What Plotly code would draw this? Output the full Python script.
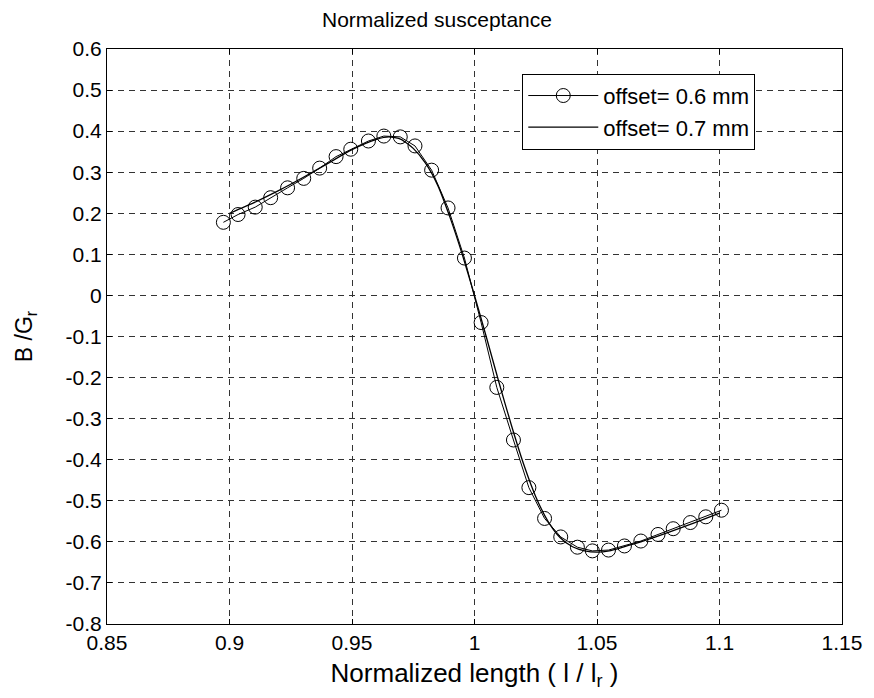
import plotly.graph_objects as go

# offset = 0.6 mm (markers)
x_06 = [0.8975, 0.9035, 0.9105, 0.9168, 0.9237, 0.9303, 0.9368, 0.9435, 0.9495, 0.9567,
        0.9630, 0.9697, 0.9757, 0.9825, 0.9892, 0.9959, 1.0027, 1.0091, 1.0159, 1.0222,
        1.0286, 1.0352, 1.0420, 1.0481, 1.0547, 1.0612, 1.0679, 1.0749, 1.0811, 1.0881,
        1.0944, 1.1008]
y_06 = [0.178, 0.197, 0.215, 0.238, 0.262, 0.285, 0.310, 0.338, 0.356, 0.376,
        0.388, 0.386, 0.364, 0.305, 0.213, 0.091, -0.066, -0.224, -0.352, -0.468,
        -0.543, -0.588, -0.613, -0.622, -0.620, -0.610, -0.598, -0.582, -0.568, -0.553,
        -0.539, -0.523]

# offset = 0.7 mm (line)
x_07 = [0.900, 0.910, 0.920, 0.930, 0.940, 0.950, 0.960, 0.965, 0.970, 0.975,
        0.980, 0.985, 0.990, 0.995, 1.000, 1.005, 1.010, 1.015, 1.020, 1.025,
        1.030, 1.035, 1.040, 1.045, 1.050, 1.055, 1.060, 1.070, 1.080, 1.090, 1.100]
y_07 = [0.200, 0.226, 0.255, 0.287, 0.321, 0.355, 0.380, 0.386, 0.380, 0.358,
        0.322, 0.268, 0.190, 0.100, 0.000, -0.105, -0.212, -0.315, -0.410, -0.490,
        -0.550, -0.590, -0.612, -0.622, -0.625, -0.622, -0.614, -0.596, -0.575, -0.553, -0.530]

x_ticks = [0.85, 0.9, 0.95, 1.0, 1.05, 1.1, 1.15]
x_tick_labels = ["0.85", "0.9", "0.95", "1", "1.05", "1.1", "1.15"]
y_ticks = [0.6, 0.5, 0.4, 0.3, 0.2, 0.1, 0.0, -0.1, -0.2, -0.3, -0.4, -0.5, -0.6, -0.7, -0.8]
y_tick_labels = ["0.6", "0.5", "0.4", "0.3", "0.2", "0.1", "0", "-0.1", "-0.2", "-0.3",
                 "-0.4", "-0.5", "-0.6", "-0.7", "-0.8"]

FONT = "Arial, 'Liberation Sans', sans-serif"

fig = go.Figure()
fig.add_trace(go.Scatter(
    x=x_06, y=y_06, mode="lines+markers", name="offset= 0.6 mm",
    line=dict(color="black", width=1),
    marker=dict(symbol="circle-open", size=14, color="black", line=dict(width=1, color="black")),
))
fig.add_trace(go.Scatter(
    x=x_07, y=y_07, mode="lines", name="offset= 0.7 mm",
    line=dict(color="black", width=1.3, shape="spline", smoothing=0.6),
))

axis_common = dict(
    showline=True, linecolor="black", linewidth=1, mirror="ticks",
    ticks="inside", ticklen=5, tickcolor="black",
    showgrid=True, gridcolor="#333333", gridwidth=1, griddash="6px,5px",
    zeroline=False,
    tickfont=dict(family=FONT, size=21, color="black"),
)

fig.update_xaxes(range=[0.85, 1.15], tickvals=x_ticks, ticktext=x_tick_labels,
                 title=dict(text="Normalized length ( l / l<sub>r</sub> )",
                            font=dict(family=FONT, size=26, color="black"), standoff=10),
                 **axis_common)
fig.update_yaxes(range=[-0.8, 0.6], tickvals=y_ticks, ticktext=y_tick_labels,
                 title=dict(text="B /G<sub>r</sub>",
                            font=dict(family=FONT, size=23, color="black"), standoff=26),
                 **axis_common)

fig.update_layout(
    width=874, height=698,
    margin=dict(l=107, r=24, t=49, b=74),
    paper_bgcolor="white", plot_bgcolor="white",
    title=dict(text="Normalized susceptance", x=0.5, xanchor="center", y=0.972, yanchor="middle",
               font=dict(family=FONT, size=21, color="black")),
    font=dict(family=FONT, color="black"),
    legend=dict(x=0.565, y=0.957, xanchor="left", yanchor="top",
                bgcolor="white", bordercolor="black", borderwidth=1,
                font=dict(family=FONT, size=22, color="black"),
                itemwidth=70, tracegroupgap=0),
    showlegend=True,
)

fig.write_html("out.html")
